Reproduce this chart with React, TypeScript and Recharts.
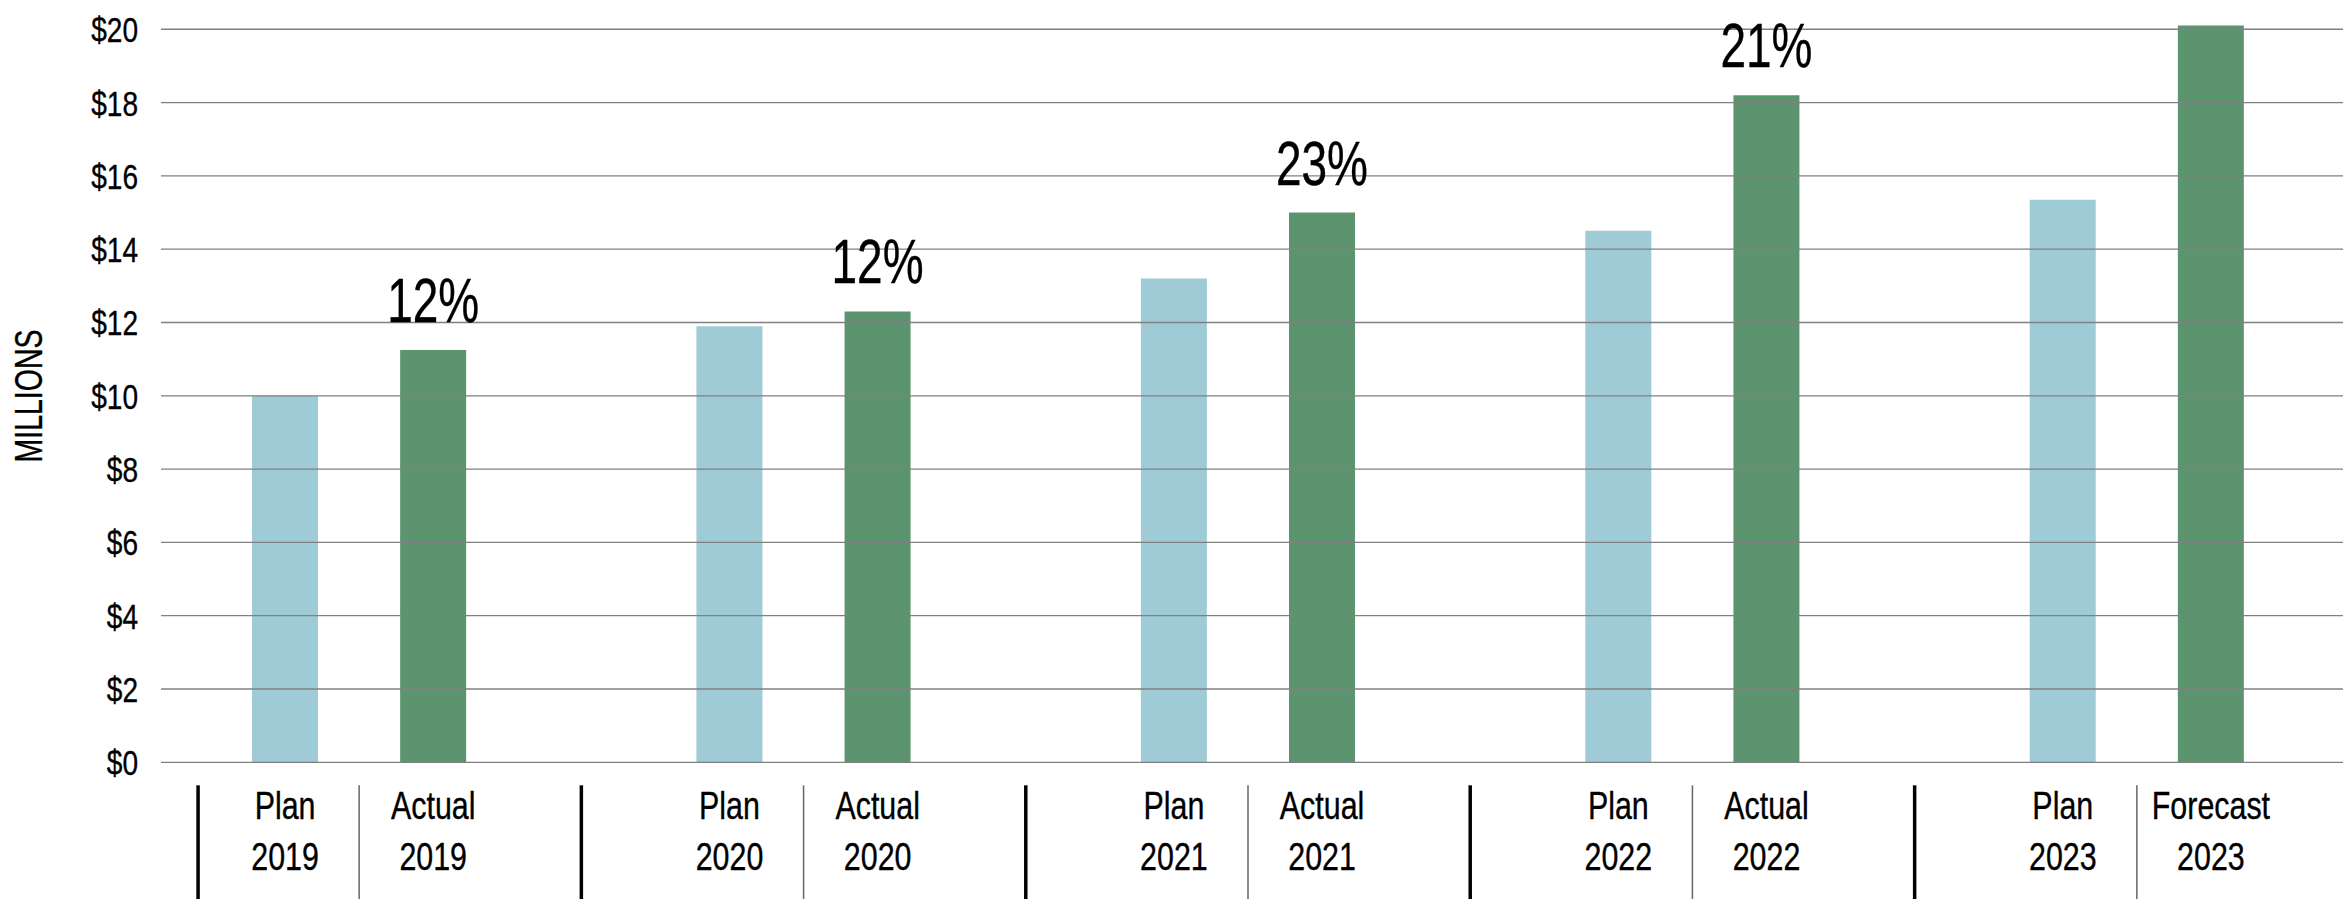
import React from 'react';
import { BarChart, Bar, XAxis, YAxis, ReferenceLine, Cell, LabelList } from 'recharts';

const years = ['2019', '2020', '2021', '2022', '2023'];
const planNames = ['Plan', 'Plan', 'Plan', 'Plan', 'Plan'];
const actualNames = ['Actual', 'Actual', 'Actual', 'Actual', 'Forecast'];
const planValues = [10.0, 11.9, 13.2, 14.5, 15.35];
const actualValues = [11.25, 12.3, 15.0, 18.2, 20.1];
const growthLabels = ['12%', '12%', '23%', '21%', ''];
const yTicks = [0, 2, 4, 6, 8, 10, 12, 14, 16, 18, 20];
const yMax = 20.1;

const W = 2343;
const H = 899;
const Y_AXIS_W = 161;
const PAD_L = 50;
const PAD_R = 58;
const PLAN_COLOR = '#9ECBD6';
const ACTUAL_COLOR = '#5D9470';
const FONT = "'Liberation Sans', Arial, sans-serif";

type Row = { key: string; line1: string; line2: string; value: number | null; kind: string; pct: string };

const rows: Row[] = [];
years.forEach((yr, i) => {
  rows.push({ key: `plan-${yr}`, line1: planNames[i], line2: yr, value: planValues[i], kind: 'plan', pct: '' });
  rows.push({ key: `actual-${yr}`, line1: actualNames[i], line2: yr, value: actualValues[i], kind: 'actual', pct: growthLabels[i] });
  if (i < years.length - 1) {
    rows.push({ key: `gap-${yr}`, line1: '', line2: '', value: null, kind: 'gap', pct: '' });
  }
});

const SLOT = (W - Y_AXIS_W - PAD_L - PAD_R) / rows.length;

const NarrowText = ({ x, y, size, anchor = 'middle', sx = 0.82, rotate = 0, dy, children }: any) => (
  <text
    transform={`translate(${x} ${y}) rotate(${rotate}) scale(${sx} 1)`}
    x={0}
    y={0}
    dy={dy}
    textAnchor={anchor}
    fontFamily={FONT}
    fontSize={size}
    fill="#000"
    stroke="#000"
    strokeWidth={0.35}
  >
    {children}
  </text>
);

const XTick = (props: any) => {
  const { x, y, index } = props;
  const row = rows[index];
  if (!row) return null;
  const top = y + 23;
  const bottom = y + 137;
  const els: any[] = [];
  if (row.kind === 'gap') {
    els.push(<line key="g" x1={x} x2={x} y1={top} y2={bottom} stroke="#000" strokeWidth={3.5} />);
  } else {
    if (row.kind === 'plan') {
      els.push(<line key="t" x1={x + SLOT / 2} x2={x + SLOT / 2} y1={top} y2={bottom} stroke="#666" strokeWidth={1.5} />);
      if (index === 0) {
        els.push(<line key="f" x1={x - 87} x2={x - 87} y1={top} y2={bottom} stroke="#000" strokeWidth={3.5} />);
      }
    }
    els.push(<NarrowText key="l1" x={x} y={y + 57} size={38} sx={0.8}>{row.line1}</NarrowText>);
    els.push(<NarrowText key="l2" x={x} y={y + 108} size={38} sx={0.8}>{row.line2}</NarrowText>);
  }
  return <g>{els}</g>;
};

const YTick = (props: any) => {
  const { x, y, payload } = props;
  return (
    <NarrowText x={x} y={y} dy="0.36em" anchor="end" size={36} sx={0.78}>
      {`$${payload.value}`}
    </NarrowText>
  );
};

const PctLabel = (props: any) => {
  const { x, y, width, value } = props;
  if (!value) return null;
  return (
    <NarrowText x={x + width / 2} y={y - 28} size={63} sx={0.73}>
      {value}
    </NarrowText>
  );
};

const AxisTitle = (props: any) => {
  const vb = props.viewBox || { x: 0, y: 0, height: 0 };
  const cx = vb.x + 42;
  const cy = 396;
  return (
    <NarrowText x={cx} y={cy} rotate={-90} size={38} sx={0.75}>
      MILLIONS
    </NarrowText>
  );
};

export default function App() {
  return (
    <div style={{ position: 'absolute', left: 0, top: 0, width: W, height: H, background: '#fff' }}>
      <BarChart width={W} height={H} data={rows} margin={{ top: 25.6, right: 0, bottom: 0, left: 0 }} barSize={66}>
        <XAxis
          dataKey="key"
          type="category"
          interval={0}
          axisLine={false}
          tickLine={false}
          tickSize={0}
          tickMargin={0}
          height={136.7}
          padding={{ left: PAD_L, right: PAD_R }}
          tick={<XTick />}
        />
        <YAxis
          type="number"
          domain={[0, yMax]}
          ticks={yTicks}
          width={Y_AXIS_W}
          axisLine={false}
          tickLine={false}
          tickSize={0}
          tickMargin={23}
          tick={<YTick />}
          label={<AxisTitle />}
        />
        {yTicks.map((t) => (
          <ReferenceLine key={`grid-${t}`} y={t} stroke="#808080" strokeWidth={1.3} ifOverflow="extendDomain" />
        ))}
        <Bar dataKey="value" isAnimationActive={false}>
          {rows.map((r) => (
            <Cell key={r.key} fill={r.kind === 'plan' ? PLAN_COLOR : ACTUAL_COLOR} />
          ))}
          <LabelList dataKey="pct" content={<PctLabel />} />
        </Bar>
      </BarChart>
    </div>
  );
}
